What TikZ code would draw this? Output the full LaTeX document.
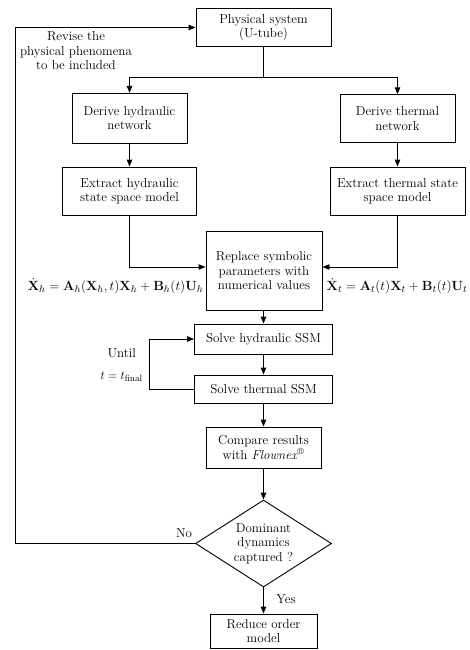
\documentclass[tikz,border=0pt]{standalone}
\usepackage{graphicx}
\usetikzlibrary{arrows.meta,shapes.geometric}
\newcommand{\fs}{\fontsize{13}{14.5}\selectfont}
\begin{document}
\begin{tikzpicture}[x=1pt,y=-1pt,
  box/.style={draw,line width=0.9pt,align=center,inner sep=0pt,font=\fs},
  lbl/.style={align=center,inner sep=0pt,font=\fs},
  eqn/.style={inner sep=0pt,font=\fs},
  arr/.style={-{Triangle[length=7pt,width=5.5pt]},line width=0.9pt},
  ln/.style={line width=0.9pt}]
\useasboundingbox (0,0) rectangle (470,650);
% nodes
\node[box,minimum width=135pt,minimum height=38pt] (phys) at (263.5,27.5) {Physical system\\(U-tube)};
\node[box,minimum width=115pt,minimum height=50pt] (dh) at (129.5,118.3) {Derive hydraulic\\network};
\node[box,minimum width=115pt,minimum height=48pt] (dt) at (397.5,118.8) {Derive thermal\\network};
\node[box,minimum width=134pt,minimum height=48pt] (eh) at (129.5,191) {Extract hydraulic\\state space model};
\node[box,minimum width=135pt,minimum height=48pt] (et) at (397.5,191) {Extract thermal state\\space model};
\node[box,minimum width=116pt,minimum height=79pt] (rep) at (264,271) {Replace symbolic\\parameters with\\numerical values};
\node[box,minimum width=138pt,minimum height=30pt] (sh) at (263.5,339) {Solve hydraulic SSM};
\node[box,minimum width=138pt,minimum height=28pt] (st) at (263.5,389) {Solve thermal SSM};
\node[box,minimum width=115pt,minimum height=41pt] (cmp) at (263.5,447.5) {Compare results\\with \textit{Flownex}\textsuperscript{\textregistered}};
\node[box,shape=diamond,aspect=1.56,minimum width=136pt,minimum height=87pt] (dia) at (263.5,543.5) {Dominant\\dynamics\\captured ?};
\node[box,minimum width=107pt,minimum height=34pt] (red) at (263.5,631) {Reduce order\\model};
% labels
\node[lbl] (rev) at (76,51) {Revise the\\physical phenomena\\to be included};
\node[eqn,anchor=east] (eqh) at (203.5,286) {\scalebox{1.11}{$\dot{\mathbf{X}}_h=\mathbf{A}_h(\mathbf{X}_h,t)\mathbf{X}_h+\mathbf{B}_h(t)\mathbf{U}_h$}};
\node[eqn,anchor=west] (eqt) at (326.5,286) {\scalebox{1.11}{$\dot{\mathbf{X}}_t=\mathbf{A}_t(t)\mathbf{X}_t+\mathbf{B}_t(t)\mathbf{U}_t$}};
\node[lbl] (until) at (121.7,353) {Until};
\node[lbl] (tfin) at (121.7,377) {$t=t_{\mathrm{final}}$};
\node[lbl] (no) at (184,533) {No};
\node[lbl] (yes) at (286,599) {Yes};
% connectors
\coordinate (split) at (263.5,77);
\coordinate (fb) at (15,543.5);
\draw[ln] (phys.south) -- (split);
\draw[arr] (split) -| (dh.north);
\draw[arr] (split) -| (dt.north);
\draw[arr] (dh) -- (eh);
\draw[arr] (dt) -- (et);
\draw[arr] (eh.south) |- ([yshift=4pt]rep.west);
\draw[arr] (et.south) |- ([yshift=4pt]rep.east);
\draw[arr] (rep.south -| sh.north) -- (sh.north);
\draw[arr] (sh) -- (st);
\draw[arr] (st.west) -- ++(-45,0) |- (sh.west);
\draw[arr] (st) -- (cmp);
\draw[arr] (cmp) -- (dia);
\draw[arr] (dia) -- (red);
\draw[arr] (dia.west) -- (fb) |- (phys.west);
\end{tikzpicture}
\end{document}
